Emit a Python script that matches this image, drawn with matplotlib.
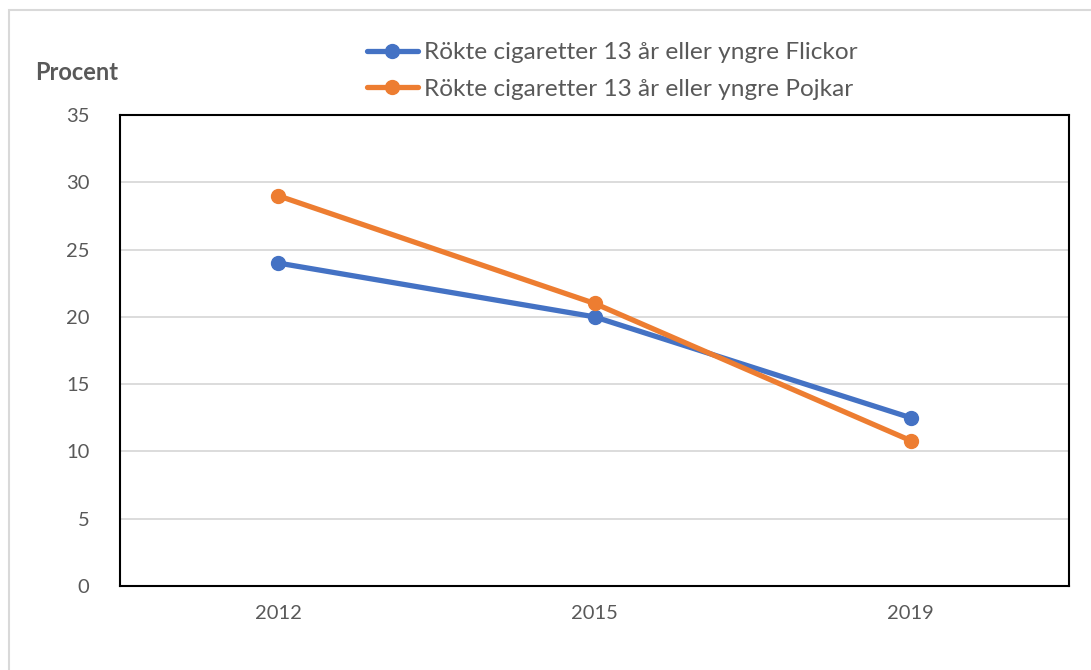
import matplotlib.pyplot as plt
from matplotlib.patches import Rectangle

# Data
years = ['2012', '2015', '2019']
flickor = [24.0, 20.0, 12.5]
pojkar = [29.0, 21.0, 10.8]
labels = ['Rökte cigaretter 13 år eller yngre Flickor',
          'Rökte cigaretter 13 år eller yngre Pojkar']

BLUE = '#4472C4'
ORANGE = '#ED7D31'
TXT = '#595959'

plt.rcParams['font.family'] = ['Lato', 'DejaVu Sans']

fig = plt.figure(figsize=(10.91, 6.70), dpi=100)
fig.patches.append(Rectangle((9 / 1091, -0.05), 1.1, 1 - 10 / 670 + 0.05,
                             transform=fig.transFigure, fill=False,
                             edgecolor='#D9D9D9', linewidth=1.5))
ax = fig.add_axes([120 / 1091, 1 - 586 / 670, 949 / 1091, 471 / 670])

x = range(len(years))
l1, = ax.plot(x, flickor, color=BLUE, linewidth=3.8, marker='o', markersize=10,
              solid_capstyle='round', zorder=3)
l2, = ax.plot(x, pojkar, color=ORANGE, linewidth=3.8, marker='o', markersize=10,
              solid_capstyle='round', zorder=3)

ax.set_xlim(-0.5, 2.5)
ax.set_ylim(0, 35)
ax.set_yticks(range(0, 36, 5))
ax.set_xticks(list(x))
ax.set_xticklabels(years)
ax.grid(axis='y', color='#D9D9D9', linewidth=1.3)
ax.set_axisbelow(True)
for s in ax.spines.values():
    s.set_color('black')
    s.set_linewidth(1.5)
ax.tick_params(length=0, labelsize=14.5, labelcolor=TXT)
ax.tick_params(axis='y', pad=22)
ax.tick_params(axis='x', pad=14)

fig.text(35 / 1091, 1 - 73 / 670, 'Procent', fontsize=17, fontweight='bold',
         color=TXT, va='center', ha='left')

fig.legend([l1, l2], labels, loc='center left',
           bbox_to_anchor=(357 / 1091, 1 - 71 / 670), frameon=False,
           fontsize=17.6, labelcolor=TXT, handlelength=2.1, handletextpad=0.25,
           labelspacing=0.62, borderaxespad=0)

fig.savefig('out.png', dpi=100)
